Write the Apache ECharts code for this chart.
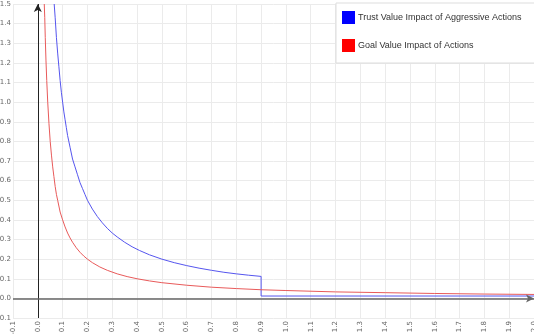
<!DOCTYPE html>
<html>
<head>
<meta charset="utf-8">
<script src="https://cdn.jsdelivr.net/npm/echarts@6/dist/echarts.min.js"></script>
<style>
  html, body { margin: 0; padding: 0; background: #fff; }
  #chart { width: 534px; height: 334px; }
</style>
</head>
<body>
<div id="chart"></div>
<script>
// trust value curve, drops at x = 0.9
var trustX = [0.066, 0.07, 0.075, 0.08, 0.085, 0.09, 0.095, 0.1, 0.105, 0.11, 0.115, 0.12, 0.13, 0.14, 0.15, 0.16, 0.17, 0.18, 0.19, 0.2, 0.22, 0.24, 0.26, 0.28, 0.3, 0.32, 0.35, 0.38, 0.41, 0.45, 0.5, 0.55, 0.6, 0.65, 0.7, 0.75, 0.8, 0.85, 0.9, 0.9, 2.0]
var trustY = [1.5, 1.43, 1.33, 1.25, 1.18, 1.11, 1.05, 1.0, 0.95, 0.91, 0.87, 0.83, 0.77, 0.71, 0.67, 0.63, 0.59, 0.56, 0.53, 0.5, 0.455, 0.417, 0.385, 0.357, 0.333, 0.313, 0.286, 0.263, 0.244, 0.222, 0.2, 0.182, 0.167, 0.154, 0.143, 0.133, 0.125, 0.118, 0.112, 0.012, 0.012]
// goal value curve
var goalX = [0.026, 0.028, 0.03, 0.033, 0.036, 0.04, 0.045, 0.05, 0.055, 0.06, 0.065, 0.07, 0.075, 0.08, 0.09, 0.1, 0.11, 0.12, 0.13, 0.14, 0.155, 0.17, 0.185, 0.2, 0.22, 0.25, 0.28, 0.32, 0.36, 0.4, 0.45, 0.5, 0.6, 0.7, 0.8, 0.9, 1.0, 1.2, 1.4, 1.6, 1.8, 2.0]
var goalY = [1.5, 1.43, 1.33, 1.21, 1.11, 1.0, 0.89, 0.8, 0.73, 0.67, 0.62, 0.57, 0.53, 0.5, 0.44, 0.4, 0.364, 0.333, 0.308, 0.286, 0.258, 0.235, 0.216, 0.2, 0.182, 0.16, 0.143, 0.125, 0.111, 0.1, 0.089, 0.08, 0.067, 0.057, 0.05, 0.044, 0.04, 0.033, 0.029, 0.025, 0.022, 0.02]
var seriesNames = ['Trust Value Impact of Aggressive Actions', 'Goal Value Impact of Actions']

function pairs(xs, ys){
  var out = []
  for(var i=0; i<xs.length; i++){
    out.push([xs[i], ys[i]])
  }
  return out
}

var labelStyle = {
  fontFamily: 'DejaVu Sans',
  fontSize: 7,
  color: '#666',
  formatter: function(v){ return v.toFixed(1) }
}

var myChart = echarts.init(document.getElementById('chart'))
var option = {
  animation: false,
  grid: { left: 13, right: 0, top: 4, bottom: 16, outerBoundsMode: 'none', containLabel: false },
  legend: {
    orient: 'vertical',
    left: 336,
    top: 3,
    padding: [8, 40, 11, 6],
    itemGap: 15,
    itemWidth: 13,
    itemHeight: 13,
    icon: 'rect',
    backgroundColor: '#fff',
    borderColor: '#ddd',
    borderWidth: 1,
    textStyle: { fontFamily: 'Liberation Sans', fontSize: 9, color: '#333', padding: [0, 0, 0, -2] },
    data: [
      { name: seriesNames[0], itemStyle: { color: '#0000ff' } },
      { name: seriesNames[1], itemStyle: { color: '#ff0000' } }
    ]
  },
  xAxis: {
    type: 'value',
    min: -0.1,
    max: 2.0,
    interval: 0.1,
    axisLine: { show: false },
    axisTick: { show: false },
    splitLine: { lineStyle: { color: '#ebebeb', width: 1 } },
    axisLabel: Object.assign({ rotate: 90, margin: 3, showMinLabel: true, showMaxLabel: true }, labelStyle)
  },
  yAxis: {
    type: 'value',
    min: -0.1,
    max: 1.5,
    interval: 0.1,
    axisLine: { show: false },
    axisTick: { show: false },
    splitLine: { lineStyle: { color: '#ebebeb', width: 1 } },
    axisLabel: Object.assign({ margin: 2, showMinLabel: true, showMaxLabel: true }, labelStyle)
  },
  series: [
    {
      name: seriesNames[0],
      type: 'line',
      data: pairs(trustX, trustY),
      symbol: 'none',
      color: '#0000ff',
      lineStyle: { color: '#5555ee', width: 1 },
      z: 3,
      markLine: {
        silent: true,
        symbol: ['none', 'arrow'],
        symbolSize: [6, 8],
        label: { show: false },
        data: [
          { xAxis: 0, lineStyle: { color: '#222', width: 1, type: 'solid' } },
          { yAxis: 0, lineStyle: { color: '#666', width: 1.5, type: 'solid' } }
        ]
      }
    },
    {
      name: seriesNames[1],
      type: 'line',
      data: pairs(goalX, goalY),
      symbol: 'none',
      color: '#ff0000',
      lineStyle: { color: '#e85a5a', width: 1 },
      z: 3
    }
  ]
}
myChart.setOption(option)
</script>
</body>
</html>
